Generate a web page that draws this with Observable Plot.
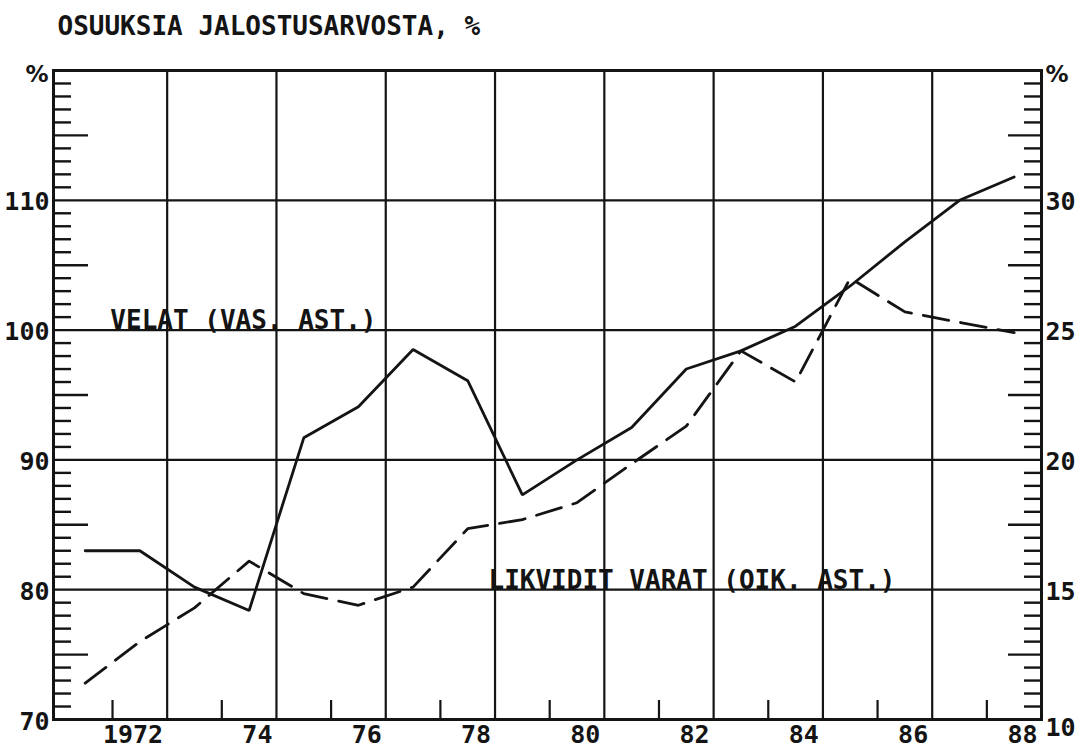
<!DOCTYPE html>
<html>
<head>
<meta charset="utf-8">
<script src="https://cdn.jsdelivr.net/npm/d3@7"></script>
<script src="https://cdn.jsdelivr.net/npm/@observablehq/plot@0.6"></script>
<style>
  html, body { margin: 0; padding: 0; background: #fff; }
</style>
</head>
<body>
<div id="chart"></div>
<script>
// ---- data ----
const years = [1971,1972,1973,1974,1975,1976,1977,1978,1979,1980,1981,1982,1983,1984,1985,1986,1987,1988];
// VELAT (left axis, %)
const velat = [83.0, 83.0, 80.2, 78.4, 91.7, 94.1, 98.5, 96.1, 87.3, 90.0, 92.5, 97.0, 98.4, 100.3, 103.4, 106.8, 110.0, 111.8];
// LIKVIDIT VARAT (right axis, %)
const likvidit = [11.4, 13.0, 14.3, 16.1, 14.85, 14.4, 15.1, 17.35, 17.7, 18.35, 19.85, 21.3, 24.2, 23.0, 27.0, 25.7, 25.3, 24.9];

const leftTicks = [70, 80, 90, 100, 110];
const rightTicks = [10, 15, 20, 25, 30];
const xTickYears = [1972, 1974, 1976, 1978, 1980, 1982, 1984, 1986, 1988];
const xTickLabels = ["1972", "74", "76", "78", "80", "82", "84", "86", "88"];
const gridY = [80, 90, 100, 110];
const gridYears = [1973, 1975, 1977, 1979, 1981, 1983, 1985, 1987];

const titleText = "OSUUKSIA JALOSTUSARVOSTA, %";
const velatLabel = "VELAT (VAS. AST.)";
const likviditLabel = "LIKVIDIT VARAT (OIK. AST.)";

// right axis (10..35) mapped onto left axis (70..120)
const rightToLeft = r => 70 + (r - 10) * 2;

const W = 1077, H = 750;
const mL = 53, mR = 36, mT = 70, mB = 31;
const innerW = W - mL - mR, innerH = H - mT - mB;

const solid = years.map((yr, i) => ({x: yr + 0.5, y: velat[i]}));
const dashed = years.map((yr, i) => ({x: yr + 0.5, y: rightToLeft(likvidit[i])}));

const minorY = d3.range(71, 120).filter(v => v % 5 !== 0);
const mediumY = d3.range(75, 120, 10);

const ink = "#141414";
const font = "'DejaVu Sans Mono', monospace";
const pctFont = "'DejaVu Sans', sans-serif";

const chart = Plot.plot({
  width: W, height: H,
  marginLeft: mL, marginRight: mR, marginTop: mT, marginBottom: mB,
  x: {domain: [1970.92, 1989], axis: null},
  y: {domain: [70, 120], axis: null},
  style: {fontFamily: font, fontWeight: "bold", background: "#fff", color: ink, overflow: "visible"},
  marks: [
    // grid
    Plot.ruleY(gridY, {stroke: ink, strokeWidth: 2.2}),
    Plot.ruleX(gridYears, {stroke: ink, strokeWidth: 2.2}),
    // left axis inner ticks
    Plot.tickY(minorY, {y: d => d, stroke: ink, strokeWidth: 2.4, insetRight: innerW - 18}),
    Plot.tickY(mediumY, {y: d => d, stroke: ink, strokeWidth: 2.4, insetRight: innerW - 35}),
    // right axis inner ticks
    Plot.tickY(minorY, {y: d => d, stroke: ink, strokeWidth: 2.4, insetLeft: innerW - 17}),
    Plot.tickY(mediumY, {y: d => d, stroke: ink, strokeWidth: 2.4, insetLeft: innerW - 33}),
    // bottom ticks
    Plot.tickX(xTickYears, {x: d => d, stroke: ink, strokeWidth: 2.2, insetTop: innerH - 19}),
    // data
    Plot.line(solid, {x: "x", y: "y", stroke: ink, strokeWidth: 2.8, strokeLinejoin: "miter"}),
    Plot.line(dashed, {x: "x", y: "y", stroke: ink, strokeWidth: 2.8, strokeDasharray: "26,12"}),
    // frame
    Plot.frame({stroke: ink, strokeWidth: 3}),
    // left tick labels
    Plot.text(leftTicks, {y: d => d, text: d => String(d), frameAnchor: "left", textAnchor: "end", dx: -4, dy: 2, fontSize: 25, fill: ink}),
    Plot.text(["%"], {y: 120, text: d => d, frameAnchor: "left", textAnchor: "end", dx: -5, dy: 4, fontSize: 23, fontFamily: pctFont, fill: ink}),
    // right tick labels
    Plot.text(rightTicks.filter(r => r !== 10), {y: d => rightToLeft(d), text: d => String(d), frameAnchor: "right", textAnchor: "start", dx: 4, dy: 2, fontSize: 25, fill: ink}),
    Plot.text([10], {y: d => rightToLeft(d), text: d => String(d), frameAnchor: "right", textAnchor: "start", dx: 4, dy: 8, fontSize: 25, fill: ink}),
    Plot.text(["%"], {y: 120, text: d => d, frameAnchor: "right", textAnchor: "start", dx: 4, dy: 4, fontSize: 23, fontFamily: pctFont, fill: ink}),
    // bottom tick labels (right-aligned just left of the odd-year gridline)
    Plot.text(xTickYears, {x: d => d + 1, text: (d, i) => xTickLabels[i], frameAnchor: "bottom", textAnchor: "end", lineAnchor: "top", dx: -4, dy: 6, fontSize: 25, fill: ink}),
    // annotations
    Plot.text([velatLabel], {x: 1971.96, y: 100, text: d => d, textAnchor: "start", lineAnchor: "bottom", dy: -1, fontSize: 26, fill: ink}),
    Plot.text([likviditLabel], {x: 1978.88, y: 80, text: d => d, textAnchor: "start", lineAnchor: "bottom", dy: -1, fontSize: 26, fill: ink}),
    // title
    Plot.text([titleText], {text: d => d, frameAnchor: "top-left", textAnchor: "start", lineAnchor: "middle", dx: 4, dy: -44, fontSize: 26, fill: ink})
  ]
});

document.getElementById("chart").appendChild(chart);
</script>
</body>
</html>
